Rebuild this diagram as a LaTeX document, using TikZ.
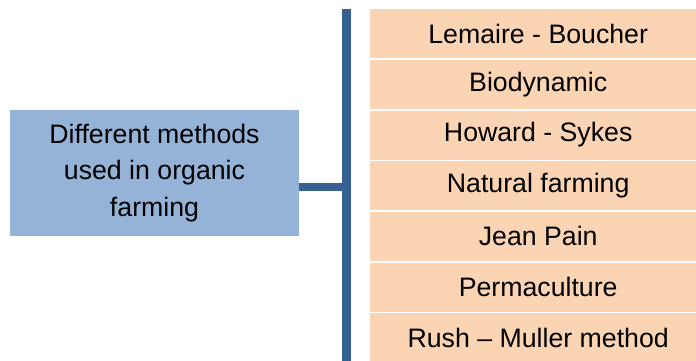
\documentclass[tikz,border=0pt]{standalone}
\usepackage{fontspec}
\setmainfont{Liberation Sans}
\definecolor{srcblue}{HTML}{95B3D7}
\definecolor{barblue}{HTML}{366092}
\definecolor{peach}{HTML}{FBD4B4}
\begin{document}
\begin{tikzpicture}[x=1pt,y=-1pt,
  srcbox/.style={fill=srcblue, draw=none, minimum width=289pt, minimum height=126pt,
    align=center, inner sep=0pt, font=\fontsize{26.7}{36.5}\selectfont},
  itembox/.style={fill=peach, draw=none, minimum width=336pt, minimum height=49pt,
    inner sep=0pt, anchor=north west, font=\fontsize{26.7}{31}\selectfont},
  spine/.style={fill=barblue, draw=none, minimum width=9pt, minimum height=362pt,
    inner sep=0pt, anchor=north},
  link/.style={draw=barblue, line width=8pt}]
  \useasboundingbox (0,0) rectangle (696,361);
  \clip (0,0) rectangle (696,361);
  % source box on the left
  \node[srcbox] (src) at (154.5,173) {Different methods\\used in organic\\farming};
  % vertical spine
  \node[spine] (bar) at (346.5,9) {};
  % list of methods
  \foreach \t [count=\i from 0] in {Lemaire - Boucher, Biodynamic, Howard - Sykes,
      Natural farming, Jean Pain, Permaculture, Rush – Muller method} {
    \node[itembox] (m\i) at (370, 9+50.67*\i) {\t};
  }
  % link from the source box to the spine
  \coordinate (joint) at (346.5,187);
  \draw[link] (src.east |- joint) -- (joint);
\end{tikzpicture}
\end{document}
